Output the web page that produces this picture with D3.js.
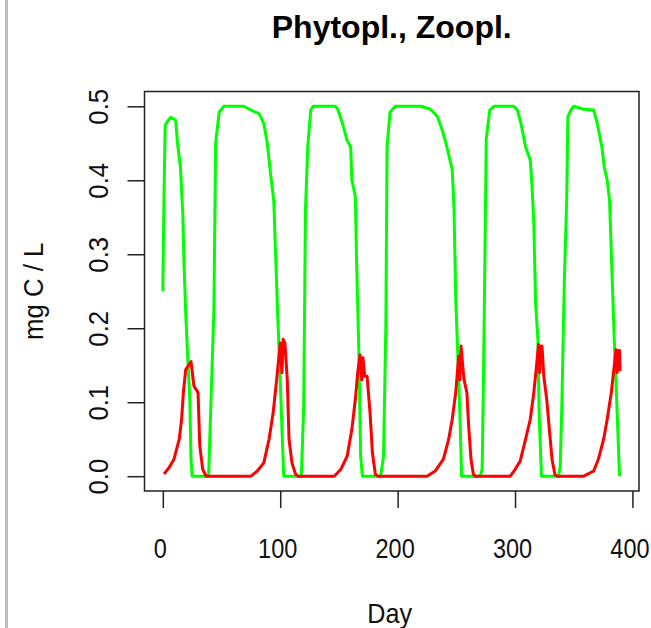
<!DOCTYPE html>
<html>
<head>
<meta charset="utf-8">
<script src="https://cdn.jsdelivr.net/npm/d3@7"></script>
<style>
  body { margin: 0; background: #fff; }
  svg { display: block; font-family: "Liberation Sans", Arial, sans-serif; }
</style>
</head>
<body>
<div id="chart"></div>
<script>
// Phytoplankton (green) - day / mg C per L
const phytoDay = [0, 1, 2, 4, 7, 11, 12.5, 15, 17, 18, 19.5, 21, 23, 24, 25,
    39, 41, 43.5, 45, 48, 52, 69, 75, 82, 86, 89, 92, 94.5, 96, 98, 100, 102, 103,
    118, 120, 121.5, 123.5, 126, 128, 147, 149, 153, 157, 160, 161, 164, 165, 167, 168.5, 170,
    185.5, 188, 190, 191, 193.5, 198, 220, 228, 234, 238, 242, 246.5, 248, 249.5, 251, 253, 254.5,
    270.5, 272, 273, 274, 275.5, 278.5, 282, 299, 302, 305, 309, 313, 314.5, 316, 317.5, 319.5, 320.5, 322.5,
    337, 338.5, 340, 342, 344, 345, 348, 350, 358.5, 367, 370, 374, 376, 378.5, 380.5, 382.5, 384.5, 387, 389];
const phytoVal = [0.25, 0.378, 0.474, 0.48, 0.485, 0.481, 0.45, 0.418, 0.356, 0.29, 0.221, 0.167, 0.104, 0.023, 0,
    0, 0.1, 0.225, 0.45, 0.492, 0.5, 0.5, 0.495, 0.49, 0.477, 0.45, 0.405, 0.373, 0.302, 0.212, 0.131, 0.041, 0,
    0, 0.095, 0.36, 0.447, 0.495, 0.5, 0.5, 0.496, 0.477, 0.454, 0.445, 0.4, 0.378, 0.292, 0.167, 0.027, 0,
    0, 0.027, 0.207, 0.445, 0.492, 0.5, 0.5, 0.496, 0.486, 0.468, 0.445, 0.414, 0.364, 0.239, 0.176, 0.086, 0,
    0, 0.01, 0.117, 0.248, 0.456, 0.495, 0.5, 0.5, 0.495, 0.477, 0.445, 0.427, 0.391, 0.342, 0.234, 0.185, 0.086, 0,
    0, 0.013, 0.104, 0.265, 0.373, 0.486, 0.496, 0.5, 0.496, 0.495, 0.477, 0.445, 0.418, 0.4, 0.373, 0.279, 0.185, 0.086, 0];

// Zooplankton (red)
const zooDay = [1, 5.5, 9.5, 14, 16, 17.5, 19.5, 22, 24, 26.5, 28, 30, 31.5, 34, 37,
    75, 80.5, 86, 90.5, 94, 97, 100, 101.5, 102.5, 104, 106, 107.5, 110, 113, 115,
    146, 151.5, 157, 161, 164, 166, 168, 169.5, 170.5, 172, 174, 176.5, 178.5, 181, 183,
    225, 232, 239, 243.5, 246.5, 249.5, 252, 253, 254, 256.5, 259, 260.5, 262.5, 264.5, 266,
    296, 300, 304.5, 309, 313, 316, 318, 320, 321, 322, 323, 324.5, 327, 329.5, 331.5, 334, 336,
    358.5, 367, 371, 375.5, 378.5, 382, 384.5, 386, 387, 388, 389, 389.5];
const zooVal = [0.003, 0.012, 0.023, 0.05, 0.077, 0.113, 0.144, 0.15, 0.155, 0.122, 0.118, 0.113, 0.041, 0.009, 0,
    0, 0.007, 0.018, 0.05, 0.086, 0.131, 0.18, 0.14, 0.185, 0.18, 0.131, 0.05, 0.018, 0.003, 0,
    0, 0.009, 0.027, 0.063, 0.104, 0.14, 0.164, 0.13, 0.16, 0.135, 0.135, 0.086, 0.032, 0.003, 0,
    0, 0.007, 0.023, 0.05, 0.077, 0.113, 0.162, 0.13, 0.176, 0.131, 0.113, 0.068, 0.023, 0.003, 0,
    0, 0.009, 0.021, 0.05, 0.077, 0.113, 0.144, 0.178, 0.14, 0.176, 0.176, 0.135, 0.104, 0.059, 0.023, 0.002, 0,
    0, 0.007, 0.023, 0.05, 0.077, 0.113, 0.149, 0.171, 0.14, 0.17, 0.17, 0.142];

const xTicks = [0, 100, 200, 300, 400];
const yTicks = [0, 0.1, 0.2, 0.3, 0.4, 0.5];

const width = 651, height = 628;
const box = { left: 144.5, right: 639, top: 91.5, bottom: 491 };

const svg = d3.select('#chart').append('svg')
    .attr('width', width)
    .attr('height', height);

// gray edge on the left of the picture
svg.append('rect')
    .attr('x', 5).attr('y', 0)
    .attr('width', 3).attr('height', height)
    .attr('fill', '#bdbdbd');

// R style: 4% padding around data range
const x = d3.scaleLinear().domain([-15.6, 405.6]).range([box.left, box.right]);
const y = d3.scaleLinear().domain([-0.02, 0.52]).range([box.bottom, box.top]);

const line = d3.line()
    .x(d => x(d[0]))
    .y(d => y(d[1]));

const phyto = phytoDay.map((d, i) => [d, phytoVal[i]]);
const zoo = zooDay.map((d, i) => [d, zooVal[i]]);

svg.append('path')
    .datum(phyto)
    .attr('d', line)
    .attr('fill', 'none')
    .attr('stroke', '#00ff00')
    .attr('stroke-width', 3)
    .attr('stroke-linejoin', 'round');

svg.append('path')
    .datum(zoo)
    .attr('d', line)
    .attr('fill', 'none')
    .attr('stroke', '#ff0000')
    .attr('stroke-width', 3)
    .attr('stroke-linejoin', 'round');

// Box
svg.append('rect')
    .attr('x', box.left).attr('y', box.top)
    .attr('width', box.right - box.left)
    .attr('height', box.bottom - box.top)
    .attr('fill', 'none')
    .attr('stroke', '#222')
    .attr('stroke-width', 1.5);

// x axis
const gx = svg.append('g')
    .attr('transform', `translate(0,${box.bottom})`)
    .call(d3.axisBottom(x).tickValues(xTicks).tickSize(17).tickFormat(d3.format('d')));
gx.select('.domain').remove();
gx.selectAll('.tick line').attr('stroke', '#222').attr('stroke-width', 1.5);
gx.selectAll('.tick text')
    .attr('y', 0).attr('dy', null)
    .attr('transform', 'translate(-3,67) scale(0.84,1)')
    .attr('font-size', 28)
    .attr('font-family', '"Liberation Sans", Arial, sans-serif')
    .attr('fill', '#111');

// y axis
const gy = svg.append('g')
    .attr('transform', `translate(${box.left},0)`)
    .call(d3.axisLeft(y).tickValues(yTicks).tickSize(17).tickFormat(d3.format('.1f')));
gy.select('.domain').remove();
gy.selectAll('.tick line').attr('stroke', '#222').attr('stroke-width', 1.5);
gy.selectAll('.tick text')
    .attr('x', 0).attr('dy', null)
    .attr('text-anchor', 'middle')
    .attr('transform', `translate(${108 - box.left},0) rotate(-90) scale(0.92,1)`)
    .attr('font-size', 28)
    .attr('font-family', '"Liberation Sans", Arial, sans-serif')
    .attr('fill', '#111');

const cx = (box.left + box.right) / 2;
const cy = (box.top + box.bottom) / 2;

// Title
svg.append('text')
    .attr('x', cx).attr('y', 38)
    .attr('text-anchor', 'middle')
    .attr('font-size', 32)
    .attr('font-weight', 'bold')
    .attr('fill', '#000')
    .text('Phytopl., Zoopl.');

// Axis labels
svg.append('text')
    .attr('transform', `translate(${cx - 2},623) scale(0.9,1)`)
    .attr('text-anchor', 'middle')
    .attr('font-size', 28)
    .attr('fill', '#111')
    .text('Day');

svg.append('text')
    .attr('transform', `translate(43,${cy}) rotate(-90) scale(0.92,1)`)
    .attr('text-anchor', 'middle')
    .attr('font-size', 28)
    .attr('fill', '#111')
    .text('mg C / L');
</script>
</body>
</html>
